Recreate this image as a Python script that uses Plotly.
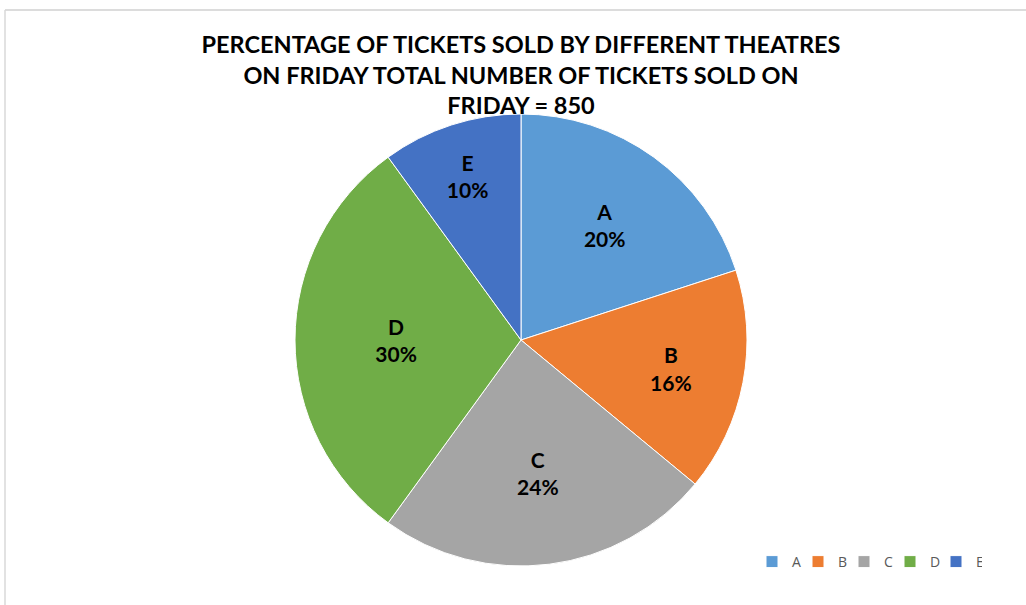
import plotly.graph_objects as go

theatres = ["A", "B", "C", "D", "E"]
percentages = [20, 16, 24, 30, 10]
colors = ["#5B9BD5", "#ED7D31", "#A5A5A5", "#70AD47", "#4472C4"]

W, H = 1026, 605
cx, cy, r = 521, 340, 226

fig = go.Figure(go.Pie(
    labels=theatres,
    values=percentages,
    sort=False,
    direction="clockwise",
    rotation=0,
    marker=dict(colors=colors, line=dict(color="white", width=1)),
    texttemplate="<b>%{label}</b><br><b>%{value}%</b>",
    textposition="inside",
    insidetextorientation="horizontal",
    textfont=dict(family="Lato, 'Open Sans', sans-serif", size=21, color="black"),
    hoverinfo="label+percent",
    domain=dict(x=[(cx - r) / W, (cx + r) / W], y=[1 - (cy + r) / H, 1 - (cy - r) / H]),
))

fig.update_layout(
    width=W, height=H,
    margin=dict(l=0, r=0, t=0, b=0, autoexpand=False),
    paper_bgcolor="white",
    title=dict(
        text="<b>PERCENTAGE OF TICKETS SOLD BY DIFFERENT THEATRES<br>ON FRIDAY TOTAL NUMBER OF TICKETS SOLD ON<br>FRIDAY = 850</b>",
        x=521 / W, xanchor="center",
        y=1 - 53 / H, yanchor="top",
        font=dict(family="Lato, 'Open Sans', sans-serif", size=23.5, color="black"),
    ),
    legend=dict(
        orientation="h",
        x=752 / W, xanchor="left",
        y=1 - 562 / H, yanchor="middle",
        font=dict(family="'Open Sans', sans-serif", size=14, color="#595959"),
        itemwidth=30,
        entrywidth=1,
        entrywidthmode="pixels",
        tracegroupgap=0,
        bgcolor="rgba(0,0,0,0)",
    ),
    shapes=[
        dict(type="line", xref="paper", yref="paper", x0=5 / W, x1=1, y0=1 - 10 / H, y1=1 - 10 / H,
             line=dict(color="#D0D0D0", width=1.5)),
        dict(type="line", xref="paper", yref="paper", x0=5 / W, x1=5 / W, y0=0, y1=1 - 10 / H,
             line=dict(color="#D8D8D8", width=1.5)),
    ],
)

fig.write_html("out.html")
